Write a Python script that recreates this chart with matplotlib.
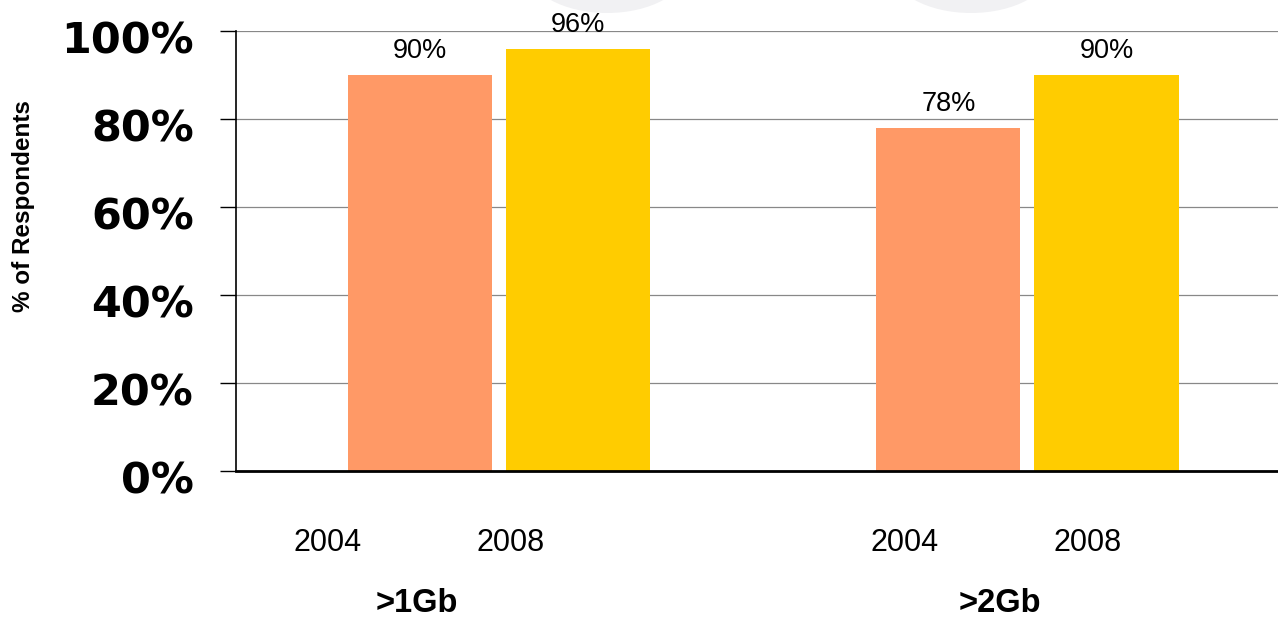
import matplotlib
matplotlib.use("Agg")
import matplotlib.pyplot as plt
import matplotlib.transforms as mtransforms
from matplotlib.patches import Ellipse
import numpy as np

# data
groups = [">1Gb", ">2Gb"]
years = ["2004", "2008"]
vals_2004 = [90, 78]
vals_2008 = [96, 90]
yticks = [0, 20, 40, 60, 80, 100]

col_2004 = "#FF9966"
col_2008 = "#FFCC00"

# layout (x in group units)
bar_w = 0.2725
off = 0.1495
year_label_x = [[-0.325, 0.021], [-0.232, 0.114]]
group_label_x = [-0.155, -0.052]

fig = plt.figure(figsize=(12.78, 6.17), dpi=100)
ax = fig.add_axes([236/1278, 1 - 471/617, 1 - 236/1278, 440/617])

# faint shapes at top of slide
for cx in [6.07, 9.71]:
    e = Ellipse((cx, 6.49), 1.6, 0.9, transform=fig.dpi_scale_trans,
                facecolor="#f1f1f3", edgecolor="none", zorder=-1)
    fig.patches.append(e)

x = np.arange(len(groups))
b1 = ax.bar(x - off, vals_2004, bar_w, color=col_2004, zorder=3)
b2 = ax.bar(x + off, vals_2008, bar_w, color=col_2008, zorder=3)

for bars, vals in [(b1, vals_2004), (b2, vals_2008)]:
    for r, v in zip(bars, vals):
        ax.annotate(f"{v}%", (r.get_x() + r.get_width()/2, v), xytext=(0, 12),
                    textcoords="offset points", ha="center", va="baseline",
                    fontsize=19.5, family="Liberation Sans")

ax.set_xlim(-0.4976, 1.474)
ax.set_ylim(0, 100)
ax.set_yticks(yticks)
ax.set_yticklabels([f"{t}%" for t in yticks], fontsize=31,
                   fontweight="bold", family="DejaVu Sans")
ax.tick_params(axis="y", length=11.5, width=1, pad=19, direction="out")
ax.set_xticks([])
ax.yaxis.grid(True, color="#888888", linewidth=0.9, zorder=0)
ax.set_axisbelow(True)

shift = mtransforms.ScaledTranslation(0, -6/100, fig.dpi_scale_trans)
for lab in ax.get_yticklabels():
    lab.set_transform(lab.get_transform() + shift)

for s in ["top", "right"]:
    ax.spines[s].set_visible(False)
ax.spines["left"].set_linewidth(1.2)
ax.spines["bottom"].set_linewidth(2)
ax.spines["bottom"].set_zorder(4)

for i, g in enumerate(groups):
    for j, yr in enumerate(years):
        ax.text(i + year_label_x[i][j], -16.4, yr, ha="center", va="center",
                fontsize=22, family="Liberation Sans")
    ax.text(i + group_label_x[i], -30.2, g, ha="center", va="center",
            fontsize=23.5, fontweight="bold", family="Liberation Sans")

fig.text(24/1278, 1 - 206/617, "% of Respondents", rotation=90, ha="center",
         va="center", fontsize=17.5, fontweight="bold", family="Liberation Sans")

fig.savefig("out.png", dpi=100)
